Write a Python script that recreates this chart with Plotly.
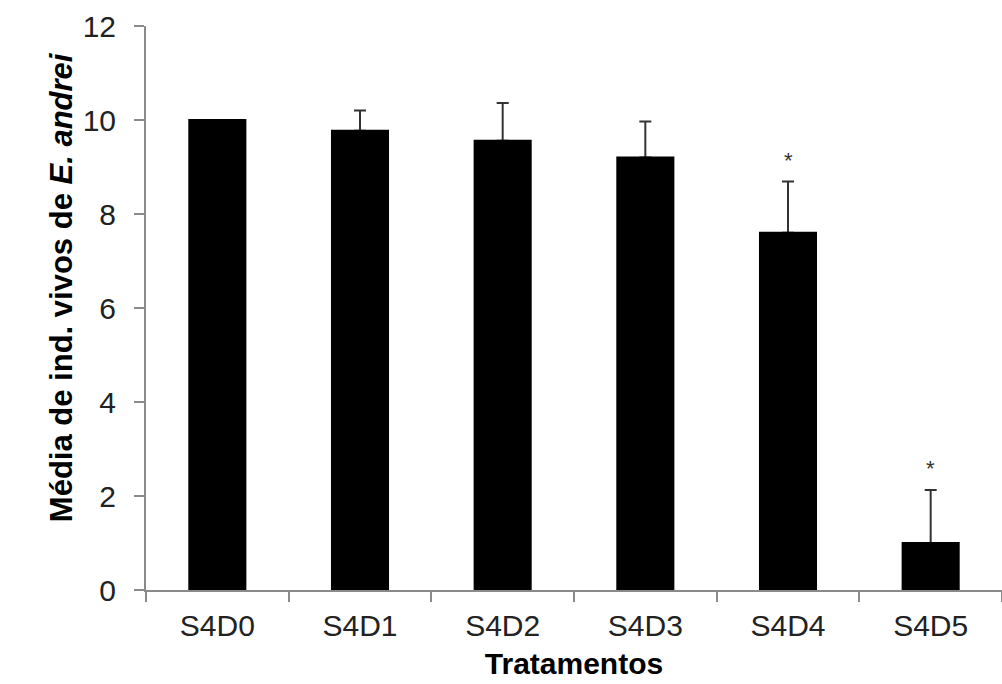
import plotly.graph_objects as go

# Mean number of live E. andrei per treatment, with upper error bars
tratamentos = ["S4D0", "S4D1", "S4D2", "S4D3", "S4D4", "S4D5"]
media = [10.0, 9.77, 9.56, 9.2, 7.6, 1.0]
erro = [None, 0.43, 0.8, 0.77, 1.09, 1.13]
significativo = [False, False, False, False, True, True]

FONT = "Liberation Sans, Arial, sans-serif"
AXIS_GRAY = "#8a8a8a"

fig = go.Figure()
# Bars carrying the upper error bars
fig.add_trace(go.Bar(
    x=tratamentos,
    y=media,
    marker=dict(color="black", line=dict(width=0)),
    error_y=dict(
        type="data",
        symmetric=False,
        array=erro,
        color="#333333",
        thickness=2,
        width=6,
    ),
))
# Same bars drawn again on top so the lower end of each error bar is hidden
fig.add_trace(go.Bar(
    x=tratamentos,
    y=media,
    marker=dict(color="black", line=dict(width=2, color="black")),
    hoverinfo="skip",
))

# Significance markers above the error bars
for cat, m, e, sig in zip(tratamentos, media, erro, significativo):
    if sig:
        fig.add_annotation(
            x=cat, y=m + (e or 0), xref="x", yref="y",
            text="*", showarrow=False,
            font=dict(family=FONT, size=22, color="#333333"),
            yanchor="middle", yshift=21,
        )

# Y-axis title with an italic species name
fig.add_annotation(
    x=0, y=0.537, xref="paper", yref="paper",
    text="<b>Média de ind. vivos de <i>E. andrei</i></b>",
    textangle=-90, showarrow=False,
    font=dict(family=FONT, size=31, color="black"),
    xanchor="center", yanchor="middle", xshift=-85,
)

fig.update_layout(
    width=1002, height=684,
    margin=dict(l=146, r=0, t=26, b=94),
    paper_bgcolor="white", plot_bgcolor="white",
    barmode="overlay",
    bargap=0.607,
    showlegend=False,
    font=dict(family=FONT, size=30, color="#222222"),
)
fig.update_xaxes(
    type="category",
    range=[-0.5, 5.5],
    showline=True, linecolor=AXIS_GRAY, linewidth=2,
    ticks="outside", tickson="boundaries", ticklen=10, tickcolor=AXIS_GRAY, tickwidth=2,
    showgrid=False, zeroline=False,
    tickfont=dict(family=FONT, size=30, color="#222222"),
    ticklabelstandoff=8,
    title=dict(text="<b>Tratamentos</b>", font=dict(family=FONT, size=30, color="black"), standoff=12),
)
fig.update_yaxes(
    range=[0, 12], tick0=0, dtick=2,
    showline=True, linecolor=AXIS_GRAY, linewidth=2,
    ticks="outside", ticklen=10, tickcolor=AXIS_GRAY, tickwidth=2,
    showgrid=False, zeroline=False,
    tickfont=dict(family=FONT, size=30, color="#222222"),
    ticklabelstandoff=12,
)

fig.write_html("out.html")
